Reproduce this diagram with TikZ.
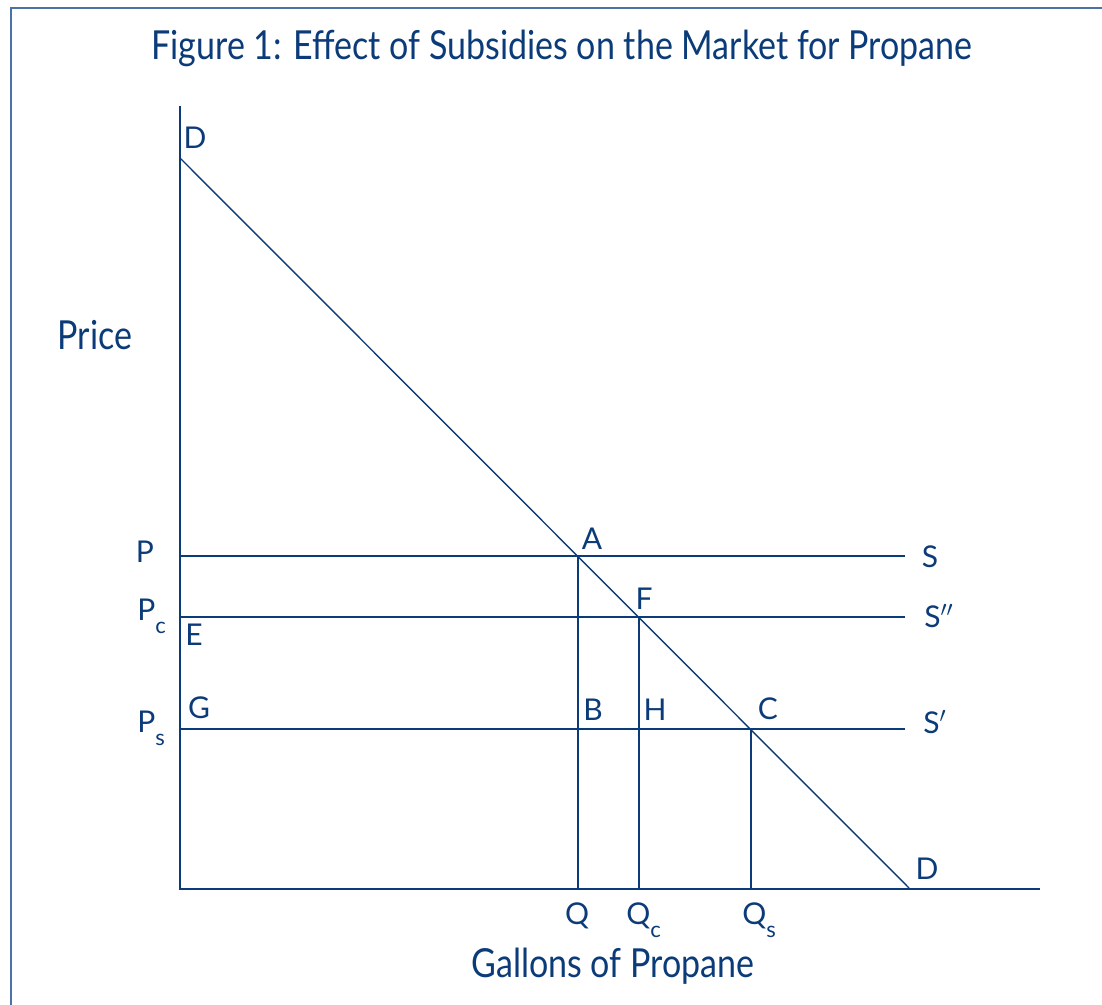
\documentclass[tikz,border=0pt]{standalone}
\usepackage{fontspec}
\setmainfont{Lato}
\newfontfamily\narrowfont{Lato}[FakeStretch=0.85]
\definecolor{navy}{HTML}{0B3B78}
\definecolor{framecol}{HTML}{4A72A6}
\newcommand{\lowsub}[1]{\raisebox{-6.5pt}{\fontsize{11}{11}\selectfont #1}}

\begin{document}
\begin{tikzpicture}[x=0.5pt,y=-0.5pt,
  every node/.style={text=navy,inner sep=0pt},
  curve/.style={draw=navy,line width=0.7pt},
  lbl/.style={font=\fontsize{15}{15}\selectfont,anchor=base},
  sublbl/.style={font=\fontsize{15}{15}\selectfont,anchor=base west},
  ttl/.style={font=\narrowfont\fontsize{20}{20}\selectfont,anchor=base}]
\useasboundingbox (0,0) rectangle (1102,1005);
\draw[framecol,line width=1pt] (11,1005) -- (11,8) -- (1102,8);
% axes
\coordinate (O) at (180,889);
\coordinate (Ytop) at (180,106);
\coordinate (Xend) at (1040,889);
\draw[navy,line width=0.9pt] (Ytop) -- (O) -- (Xend);
% demand curve
\coordinate (Dhi) at (180,158);
\coordinate (Dlo) at (909,888);
\draw[curve] (Dhi) -- (Dlo);
% supply curves and quantities
\coordinate (A) at (578,556);
\coordinate (F) at (639,617);
\coordinate (C) at (751,729);
\coordinate (Send) at (905,0);
\foreach \pt in {A,F,C}{
\draw[curve] (\pt -| O) -- (\pt -| Send);
\draw[curve] (\pt) -- (\pt |- O);
}
% labels
\node[ttl] (title) at (562,60) {Figure 1: Effect of Subsidies on the Market for Propane};
\node[ttl] (price) at (95,350) {Price};
\node[ttl] (gallons) at (613,977) {Gallons of Propane};
\node[lbl] (Dtop) at (195,149) {D};
\node[lbl] (Dbot) at (927,879) {D};
\node[lbl] (P) at (145,562) {P};
\node[sublbl] (Pc) at (137,620) {P\lowsub{c}};
\node[sublbl] (Ps) at (137,732) {P\lowsub{s}};
\node[lbl] (E) at (194,645) {E};
\node[lbl] (G) at (199,718) {G};
\node[lbl] (Alab) at (592,549) {A};
\node[lbl] (Flab) at (644,609) {F};
\node[lbl] (B) at (593,720) {B};
\node[lbl] (H) at (655,720) {H};
\node[lbl] (Clab) at (768,719) {C};
\node[lbl] (S) at (930,567) {S};
\node[sublbl] (Sdd) at (924,627) {S$''$};
\node[sublbl] (Sd) at (923,733) {S$'$};
\node[lbl] (Q) at (577,924) {Q};
\node[sublbl] (Qc) at (626,924) {Q\lowsub{c}};
\node[sublbl] (Qs) at (742,924) {Q\lowsub{s}};
\end{tikzpicture}
\end{document}
